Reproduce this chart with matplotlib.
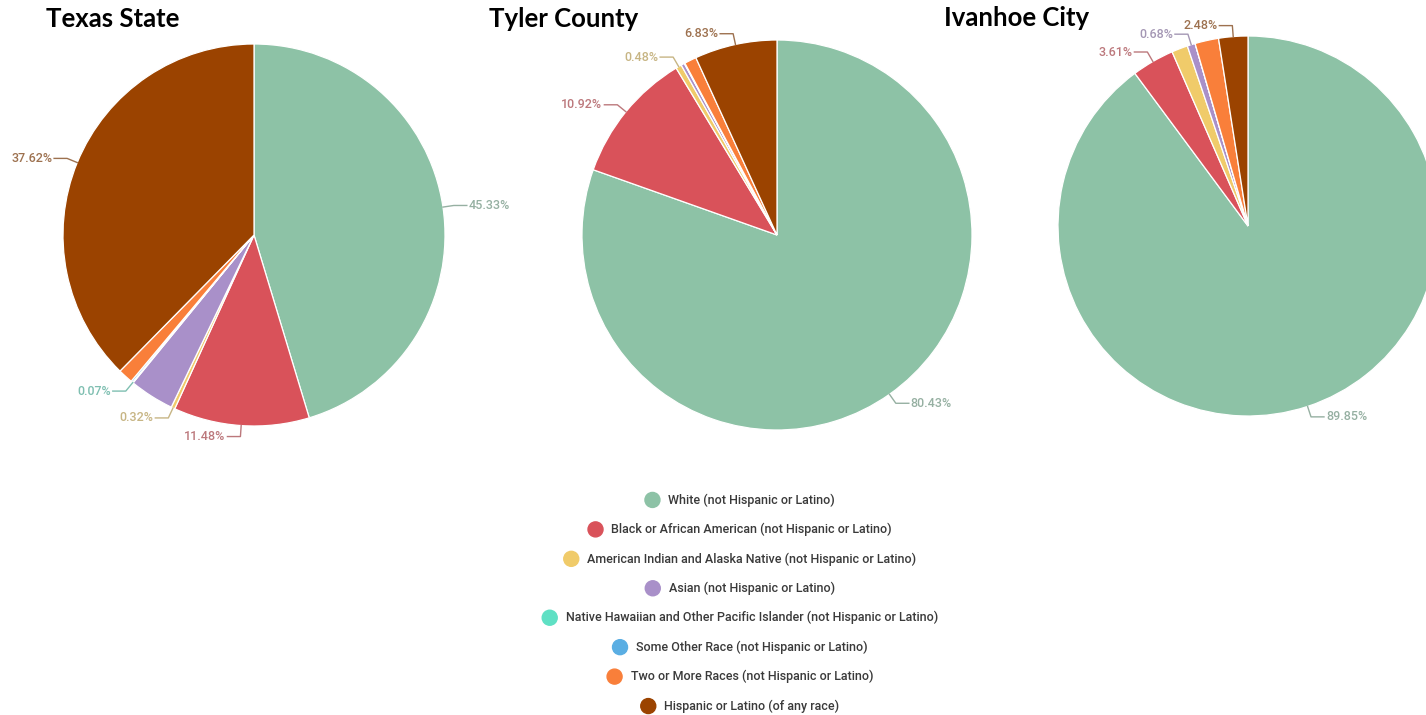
import matplotlib
matplotlib.use("Agg")
import matplotlib.pyplot as plt
import numpy as np
from matplotlib.patches import Circle
from matplotlib.offsetbox import (AnchoredOffsetbox, DrawingArea, HPacker,
                                  TextArea, VPacker)
from matplotlib.colors import to_rgb

# ---- data -------------------------------------------------------------
categories = [
    "White (not Hispanic or Latino)",
    "Black or African American (not Hispanic or Latino)",
    "American Indian and Alaska Native (not Hispanic or Latino)",
    "Asian (not Hispanic or Latino)",
    "Native Hawaiian and Other Pacific Islander (not Hispanic or Latino)",
    "Some Other Race (not Hispanic or Latino)",
    "Two or More Races (not Hispanic or Latino)",
    "Hispanic or Latino (of any race)",
]
colors = ["#8dc2a6", "#d9525a", "#f0cb6a", "#a990c9",
          "#5fe0c4", "#5aaee3", "#f97f3a", "#9b4300"]

areas = ["Texas State", "Tyler County", "Ivanhoe City"]
texas_values = [45.33, 11.48, 0.32, 3.78, 0.07, 0.14, 1.26, 37.62]
tyler_values = [80.43, 10.92, 0.48, 0.29, 0.00, 0.05, 1.00, 6.83]
ivanhoe_values = [89.85, 3.61, 1.37, 0.68, 0.00, 0.00, 2.01, 2.48]
# slices whose percentage is printed next to the pie
texas_labeled = [0, 1, 2, 4, 7]
tyler_labeled = [0, 1, 2, 7]
ivanhoe_labeled = [0, 1, 3, 7]

# ---- layout (pixel space, origin bottom-left) ---------------------------
W, H = 1426, 715
fig = plt.figure(figsize=(W / 100, H / 100), dpi=100)
ax = fig.add_axes([0, 0, 1, 1])

pies = [
    (texas_values, texas_labeled, (254, H - 235), 191, (46, H - 19)),
    (tyler_values, tyler_labeled, (777, H - 235), 195, (489, H - 19)),
    (ivanhoe_values, ivanhoe_labeled, (1248, H - 226), 190, (944, H - 18)),
]


def label_color(c, k=0.5, grey=0.62):
    r, g, b = to_rgb(c)
    return (k * r + (1 - k) * grey, k * g + (1 - k) * grey,
            k * b + (1 - k) * grey)


for (vals, labeled, center, radius, tpos), title in zip(pies, areas):
    wedges, _ = ax.pie(vals, colors=colors, startangle=90,
                       counterclock=False, center=center, radius=radius,
                       normalize=True,
                       wedgeprops=dict(edgecolor="white", linewidth=0.9))
    ax.text(tpos[0], tpos[1], title, ha="left", va="center",
            fontsize=18.5, fontweight="bold", family="Lato",
            color="black")
    cx, cy = center
    for i in labeled:
        w = wedges[i]
        ang = np.deg2rad((w.theta1 + w.theta2) / 2)
        ca, sa = np.cos(ang), np.sin(ang)
        p0 = (cx + radius * ca, cy + radius * sa)
        p1 = (cx + (radius + 11) * ca, cy + (radius + 11) * sa)
        side = 1 if ca >= 0 else -1
        p2 = (p1[0] + side * 13, p1[1])
        lc = label_color(colors[i])
        ax.plot([p0[0], p1[0], p2[0]], [p0[1], p1[1], p2[1]],
                color=lc, lw=1.0, solid_joinstyle="round")
        ax.text(p2[0] + side * 2, p2[1], f"{vals[i]:.2f}%",
                ha="left" if side > 0 else "right", va="center",
                fontsize=9, family="Roboto", fontweight="medium", color=lc)

# pie() resets the view, so fix the pixel frame afterwards
ax.set_xlim(0, W)
ax.set_ylim(0, H)
ax.set_aspect("equal")
ax.axis("off")

# ---- legend: one centred row per category -------------------------------
rows = []
for name, c in zip(categories, colors):
    da = DrawingArea(11, 11, 0, 0)
    da.add_artist(Circle((5.5, 5.5), 5.4, color=c))
    ta = TextArea(name, textprops=dict(fontsize=9, family="Roboto",
                                       fontweight="medium", color="#3a3a3a"))
    rows.append(HPacker(children=[da, ta], align="center", pad=0, sep=6))
legend_box = VPacker(children=rows, align="center", pad=0, sep=10.2)
anchored = AnchoredOffsetbox(loc="center", child=legend_box, frameon=False,
                             bbox_to_anchor=(740 / W, 1 - 603 / H),
                             bbox_transform=fig.transFigure, pad=0,
                             borderpad=0)
ax.add_artist(anchored)

fig.savefig("out.png", dpi=100, facecolor="white")
